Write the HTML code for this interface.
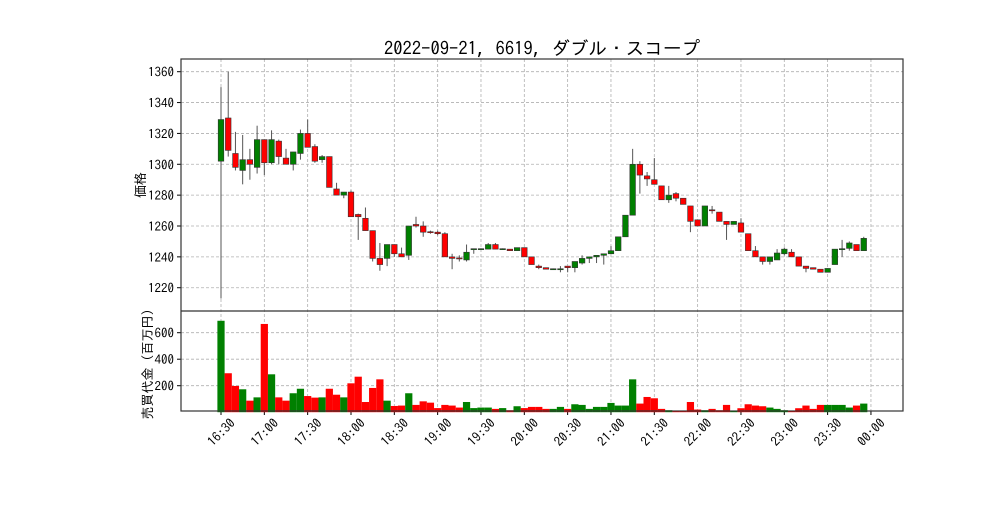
<!DOCTYPE html>
<html><head><meta charset="utf-8"><style>
html,body{margin:0;padding:0;background:#fff;}
svg text{font-family:"IPAGothic","Noto Sans CJK JP",sans-serif;fill:#000;}
</style></head><body>
<svg id="s" width="1003" height="502" xmlns="http://www.w3.org/2000/svg"></svg>
<script>
const d=[[1302,1350,1213,1329,690],[1330,1360,1305,1309,294],[1307,1321,1296,1298,198],[1296,1319,1287,1303,173],[1303,1310,1290,1300,87],[1298,1325,1294,1316,112],[1316,1316,1293,1301,666],[1301,1322,1300,1316,286],[1315,1316,1300,1305,112],[1304,1310,1300,1300,87],[1300,1308,1296,1308,143],[1307,1322.5,1303,1320,177],[1320,1329,1311,1311,122],[1311.5,1313,1301,1302,110],[1303,1306,1301,1305,112],[1305,1305,1285,1285,177],[1284,1288,1280,1280,132],[1280,1282,1278,1282,112],[1282,1283,1266,1266,218],[1267.5,1268,1251,1266,268],[1265,1272,1257,1257,77],[1257,1257,1237,1239,183],[1239,1249,1231,1235,248],[1239,1248,1234,1248,87],[1248,1248,1240,1242,47],[1242,1246,1240,1240,50],[1241,1260,1238,1260,143],[1261,1266,1259,1260,55],[1260,1263,1253,1256,82],[1256.3,1257,1255,1256,72],[1256,1257,1254,1255,31],[1255,1256,1240,1240,55],[1240,1242,1232,1239,50],[1239.3,1241,1237,1239,35],[1238,1248,1237,1243,77],[1245,1245,1242,1245.3,31],[1245,1245.5,1244.5,1245.3,35],[1245,1249,1245,1248,35],[1248,1249,1245,1245,25],[1245,1245.5,1244.5,1245.3,31],[1245,1245,1244,1244,15],[1244,1246,1244,1246,45],[1246,1246,1240,1240,31],[1240,1240,1235,1235,40],[1234,1235,1232,1233,40],[1233,1233,1232,1232,25],[1232,1232.5,1231.5,1232.3,25],[1232,1234,1230,1232.3,40],[1234,1234,1230,1233,25],[1233,1237,1230,1237,60],[1236,1241,1235,1239,55],[1239,1240,1236,1240,25],[1240,1241,1236,1241,40],[1241,1242,1235,1242,40],[1242,1247,1242,1244,70],[1244,1253,1244,1253,50],[1253,1267,1253,1267,50],[1267,1310,1267,1300,248],[1300,1302,1281,1293,65],[1292.5,1295,1286,1290.5,115],[1290,1304,1287,1287,105],[1286,1286,1277,1277,25],[1277,1286,1275,1280,15],[1281,1282,1276,1278,10],[1278,1278,1274,1274,10],[1273,1273,1256,1263,77],[1264,1264,1260,1260,20],[1260,1273,1260,1273,15],[1270.5,1273,1268,1270,25],[1269,1269,1263,1263,15],[1263,1263,1251,1261,55],[1261,1263,1261,1263,10],[1262,1265,1256,1256,30],[1255,1255,1244,1244,60],[1244,1247,1240,1240,50],[1240,1240,1235,1237,45],[1237,1240,1235,1240,35],[1238,1245,1238,1242.5,25],[1242,1246,1241,1245,15],[1243,1245,1240,1240,10],[1240,1240,1234,1234,30],[1234,1234,1230,1232.5,50],[1233,1233,1232,1232,25],[1232,1232,1230,1230,55],[1230,1232.5,1230,1232.5,55],[1235,1245,1235,1245,55],[1245,1251,1240,1245.3,55],[1245.5,1250,1244,1249,35],[1248,1248,1244,1244,50],[1244,1253,1244,1252,65]];
const L=181,R=903,T=59,M=311,B=411;
const X=i=>221+7.222*i, Y=p=>71.7+(1360-p)*1.543, V=v=>412.2-v*0.1325;
let h='';
const G='stroke="#b0b0b0" stroke-width="0.8" stroke-dasharray="3,2"';
for(let p=1220;p<=1360;p+=20){h+=`<line x1="${L}" x2="${R}" y1="${Y(p)}" y2="${Y(p)}" ${G}/><line x1="${L-4}" x2="${L}" y1="${Y(p)}" y2="${Y(p)}" stroke="#000"/><text x="${L-7}" y="${Y(p)+5}" font-size="13" text-anchor="end">${p}</text>`;}
for(let v=200;v<=600;v+=200){h+=`<line x1="${L}" x2="${R}" y1="${V(v)}" y2="${V(v)}" ${G}/><line x1="${L-4}" x2="${L}" y1="${V(v)}" y2="${V(v)}" stroke="#000"/><text x="${L-7}" y="${V(v)+5}" font-size="13" text-anchor="end">${v}</text>`;}
const labs=['16:30','17:00','17:30','18:00','18:30','19:00','19:30','20:00','20:30','21:00','21:30','22:00','22:30','23:00','23:30','00:00'];
labs.forEach((t,k)=>{const x=221+43.33*k;h+=`<line x1="${x}" x2="${x}" y1="${T}" y2="${B}" ${G}/><line x1="${x}" x2="${x}" y1="${B}" y2="${B+4}" stroke="#000"/><text x="${x}" y="${437}" font-size="13" text-anchor="middle" transform="rotate(-45 ${x} 432)">${t}</text>`;});
d.forEach((r,i)=>{const[o,hi,lo,c,v]=r;const x=X(i);const up=c>=o;const col=up?'#008000':'#ff0000';
h+=`<line x1="${x}" x2="${x}" y1="${Y(hi)}" y2="${Y(lo)}" stroke="#555" stroke-width="1"/>`;
const y1=Y(Math.max(o,c)),y2=Y(Math.min(o,c));h+=`<rect x="${x-2.8}" y="${y1}" width="5.6" height="${Math.max(y2-y1,1)}" fill="${col}" stroke="#333" stroke-width="0.6"/>`;
h+=`<rect x="${x-3.61}" y="${V(v)}" width="7.22" height="${V(0)-V(v)}" fill="${col}"/>`;});
h+=`<rect x="${L}" y="${T}" width="${R-L}" height="${B-T}" fill="none" stroke="#333" stroke-width="1.2"/><line x1="${L}" x2="${R}" y1="${M}" y2="${M}" stroke="#333" stroke-width="1.2"/>`;
h+=`<text x="542" y="55" font-size="18.6" text-anchor="middle">2022-09-21, 6619, ダブル・スコープ</text>`;
h+=`<text x="0" y="0" font-size="13" text-anchor="middle" transform="translate(145 185) rotate(-90)">価格</text>`;
h+=`<text x="0" y="0" font-size="13" text-anchor="middle" transform="translate(152 361) rotate(-90)">売買代金（百万円）</text>`;
document.getElementById('s').innerHTML=h;
</script>
</body></html>
